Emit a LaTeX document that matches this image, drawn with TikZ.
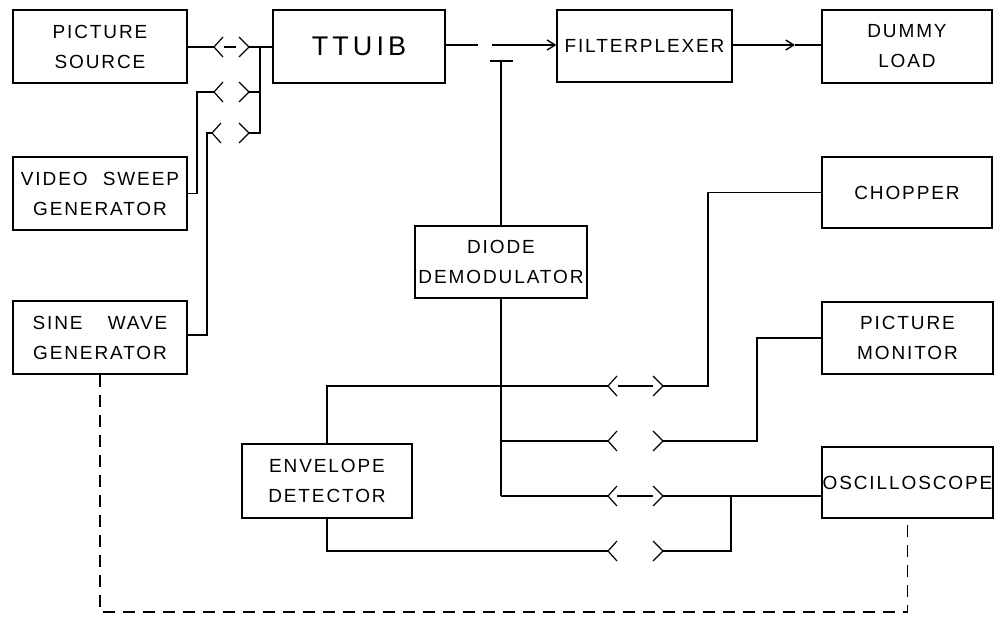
\documentclass[tikz,border=0pt]{standalone}
\usepackage{fontspec}
\setmainfont{Liberation Sans}[LetterSpace=10]
\newfontfamily\bigfont{Liberation Sans}[LetterSpace=15]
\usetikzlibrary{arrows.meta}
\tikzset{
  blk/.style={draw, line width=1.2pt, inner sep=0pt, align=center,
    font=\fontsize{19}{30}\selectfont},
  wire/.style={line width=1.2pt},
  tip/.style={-{Straight Barb[length=8pt,width=10pt,line width=1.4pt]}},
  lchev/.pic={\draw[wire] (9,-10) -- (0,0) -- (9,10);},
  rchev/.pic={\draw[wire] (-10,-10) -- (0,0) -- (-10,10);},
}
\begin{document}
\begin{tikzpicture}[x=1pt,y=-1pt]
\useasboundingbox (0,0) rectangle (1004,618);
% boxes
\node[blk, minimum width=174pt, minimum height=73pt] (ps) at (100,46.5) {PICTURE\\SOURCE};
\node[blk, minimum width=174pt, minimum height=73pt] (vsg) at (100,193.5) {VIDEO\hspace{8pt} SWEEP\\GENERATOR};
\node[blk, minimum width=174pt, minimum height=73pt] (swg) at (100,337.5) {SINE\hspace{18pt} WAVE\\GENERATOR};
\node[blk, minimum width=172pt, minimum height=73pt, font=\fontsize{27}{30}\bigfont] (tt) at (359,46.5) {TTUIB};
\node[blk, minimum width=175pt, minimum height=72pt] (fp) at (644.5,46) {FILTERPLEXER};
\node[blk, minimum width=170pt, minimum height=73pt] (dl) at (907,46.5) {DUMMY\\LOAD};
\node[blk, minimum width=170pt, minimum height=71pt] (ch) at (907,192.5) {CHOPPER};
\node[blk, minimum width=171pt, minimum height=72pt] (pm) at (907.5,338) {PICTURE\\MONITOR};
\node[blk, minimum width=171pt, minimum height=71pt] (os) at (907.5,482.5) {OSCILLOSCOPE};
\node[blk, minimum width=172pt, minimum height=72pt] (dd) at (501,262) {DIODE\\DEMODULATOR};
\node[blk, minimum width=170pt, minimum height=74pt] (ed) at (327,481) {ENVELOPE\\DETECTOR};
% connector coordinates
\coordinate (c1L) at (214,47);  \coordinate (c1R) at (249,47);
\coordinate (c2L) at (214,92);  \coordinate (c2R) at (249,92);
\coordinate (c3L) at (212,133); \coordinate (c3R) at (249,133);
\coordinate (c4L) at (608,386); \coordinate (c4R) at (663,386);
\coordinate (c5L) at (608,441); \coordinate (c5R) at (663,441);
\coordinate (c6L) at (608,496); \coordinate (c6R) at (663,496);
\coordinate (c7L) at (608,551); \coordinate (c7R) at (663,551);
\foreach \c in {c1L,c2L,c3L,c4L,c5L,c6L,c7L} \pic at (\c) {lchev};
\foreach \c in {c1R,c2R,c3R,c4R,c5R,c6R,c7R} \pic at (\c) {rchev};
% dashes inside connectors
\draw[wire] (224,47) -- (236,47);
\draw[wire] (618,386) -- (653,386);
\draw[wire] (617,496) -- (653,496);
% left side wiring
\coordinate (bus) at (260,47);
\draw[wire] (ps.east |- c1L) -- (c1L);
\draw[wire] (c1R) -- (c1R -| tt.west);
\draw[wire] (c2R) -- (c2R -| bus);
\draw[wire] (c3R) -- (c3R -| bus) -- (bus);
\draw[wire] (c2L) -- (197,92) -- (197,193.5) -- (vsg.east);
\draw[wire] (c3L) -- (207,133) -- (207,335) -- (swg.east |- 0,335);
% top row
\coordinate (g1) at (478,45); \coordinate (g2) at (492,45);
\draw[wire] (tt.east |- g1) -- (g1);
\draw[wire,tip] (g2) -- (g2 -| fp.west);
\coordinate (fmid) at (795,45);
\draw[wire,tip] (fp.east |- fmid) -- (fmid);
\draw[wire] (fmid) -- (fmid -| dl.west);
% tap to diode
\coordinate (tap) at (501,61);
\draw[wire] (490,61) -- (513,61);
\draw[wire] (tap) -- (dd.north);
% demodulator outputs
\coordinate (j1) at (501,386);
\draw[wire] (dd.south) -- (501,496);
\draw[wire] (ed.north) -- (ed.north |- j1) -- (c4L);
\draw[wire] (c4R) -- (708,386) -- (708,192.5) -- (ch.west);
\draw[wire] (501,441) -- (c5L);
\draw[wire] (c5R) -- (757,441) -- (757,338) -- (pm.west);
\draw[wire] (501,496) -- (c6L);
\draw[wire] (c6R) -- (c6R -| os.west);
\draw[wire] (ed.south) -- (ed.south |- c7L) -- (c7L);
\draw[wire] (c7R) -- (731,551) -- (731,496);
% dashed sync line
\draw[wire, dash pattern=on 12pt off 8pt] (swg.south) -- (100,612) -- (907.5,612) -- (os.south);
\end{tikzpicture}
\end{document}
